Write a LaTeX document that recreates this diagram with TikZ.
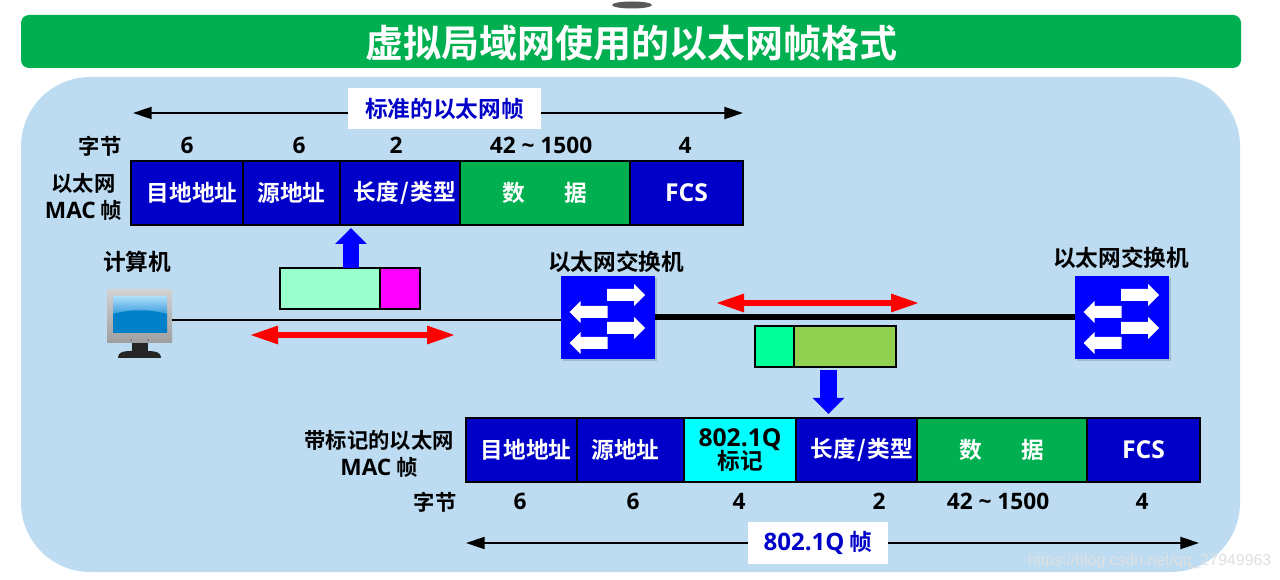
\documentclass[tikz,border=0pt]{standalone}
\usepackage{fontspec}
\usetikzlibrary{arrows.meta,calc}
\setmainfont{Noto Sans CJK SC}[BoldFont={Noto Sans CJK SC Bold}]
\newfontfamily\latf{Open Sans}[BoldFont={Open Sans Bold}]
\newcommand{\lat}[1]{{\latf\bfseries #1}}
\newcommand{\fs}[1]{\fontsize{#1}{#1}\selectfont\bfseries}
\definecolor{bgblue}{HTML}{BDDCF2}
\definecolor{titlegreen}{HTML}{00B050}
\definecolor{cellblue}{HTML}{0000C8}
\definecolor{pureblue}{HTML}{0000FF}
\definecolor{mint}{HTML}{99FFCC}
\definecolor{sgreen}{HTML}{00FF99}
\definecolor{lgreen}{HTML}{92D050}
\definecolor{arrowred}{HTML}{FF0000}
\definecolor{puremagenta}{HTML}{FF00FF}
\definecolor{purecyan}{HTML}{00FFFF}
\definecolor{waterblue}{HTML}{0080C8}
\definecolor{skyblue}{HTML}{A8DCF8}
\definecolor{skyblue2}{HTML}{3C9CDC}
\tikzset{
 x=0.75pt,y=-0.75pt,
 cellbox/.style={draw=black,line width=2.2pt,inner sep=0,outer sep=0,minimum height=48pt,text=white,font=\fs{17},align=center,fill=cellblue},
 wd/.style={minimum width=#1*0.75pt},
 greencell/.style={fill=titlegreen},
 txt/.style={inner sep=0,outer sep=0,text=black,align=center,font=\fs{#1}},
 num/.style={inner sep=0,outer sep=0,text=black,font=\fs{17}},
 caption/.style={fill=white,inner sep=0,outer sep=0,text=cellblue,font=\fs{17}},
 span/.style={draw=black,line width=1.6pt,-{Triangle[length=14pt,width=9pt]}},
 redarrow/.style={draw=arrowred,line width=3.8pt,{Triangle[length=21pt,width=13pt]}-{Triangle[length=21pt,width=13pt]}},
 bluearrow/.style={draw=pureblue,line width=12.5pt,-{Triangle[length=12pt,width=23pt]}},
 pkt/.style={draw=black,line width=1.2pt,inner sep=0,outer sep=0,minimum height=30.5pt},
 switchbox/.style={fill=pureblue,inner sep=0,outer sep=0,minimum width=70.5pt,minimum height=62.5pt},
 rarr/.pic={\fill[white] (-19,-6)--(8,-6)--(8,-11)--(19,0)--(8,11)--(8,6)--(-19,6)--cycle;},
 larr/.pic={\fill[white] (19,-6)--(-8,-6)--(-8,-11)--(-19,0)--(-8,11)--(-8,6)--(19,6)--cycle;},
 swicons/.pic={
  \path (18,-22.5) pic{rarr} (18,10.5) pic{rarr} (-19.5,-5.5) pic{larr} (-19.5,25.5) pic{larr};
 }
}
\begin{document}
\begin{tikzpicture}
\useasboundingbox (0,0) rectangle (1280,580);
\fill[white] (0,0) rectangle (1280,580);
% top smudge
\fill[black!65] (632,5) ellipse [x radius=20,y radius=3.5];
% title bar
\fill[titlegreen,rounded corners=6pt] (21,15) rectangle (1241,68);
\node[inner sep=0,text=white,font=\fs{28.5}] (title) at (631,43) {虚拟局域网使用的以太网帧格式};
% panel
\fill[bgblue,rounded corners=52pt] (21,77) rectangle (1240,572);

% top frame caption
\coordinate (tl) at (133,113);
\coordinate (tr) at (743,113);
\node[caption,minimum width=193*0.75pt,minimum height=41*0.75pt] (tcap) at (444.5,108.5) {标准的以太网帧};
\draw[span] (tcap.west |- tl) -- (tl);
\draw[span] (tcap.east |- tr) -- (tr);

\node[txt=16] (tb) at (100,146) {字节};
\node[num] (t1) at (187,145) {\lat{6}};
\node[num] (t2) at (299,145) {\lat{6}};
\node[num] (t3) at (396,145) {\lat{2}};
\node[num] (t4) at (541,145) {\lat{42 \textasciitilde{} 1500}};
\node[num] (t5) at (685,145) {\lat{4}};

\node[txt=16] (tl1) at (83.5,197) {以太网\\[4pt]{\fontsize{17}{17}\selectfont\lat{MAC}} 帧};

\node[cellbox,wd=112] (a1) at (187,193) {\hspace*{7.5pt}目地地址};
\node[cellbox,wd=97] (a2) at (291.5,193) {源地址};
\node[cellbox,wd=120] (a3) at (400,193) {\hspace*{7.5pt}长度\kern1pt/\kern1pt类型};
\node[cellbox,wd=170,greencell] (a4) at (545,193) {数\hspace{30pt}据};
\node[cellbox,wd=113,font=\fs{18.5}] (a5) at (686.5,193) {\lat{FCS}};

% computer
\node[txt=17] (pclabel) at (137,262) {计算机};
\node[inner sep=0,outer sep=0,minimum width=48pt,minimum height=45pt] (pc) at (139.5,320) {};
\fill[black!85] (132,342) rectangle (148,352);
\fill[black!85] (118,358) .. controls (118,350) and (128,351) .. (139,351) .. controls (150,351) and (161,350) .. (161,358) -- cycle;
\shade[top color=black!18,bottom color=black!38] (107,290) rectangle (172,343);
\shade[top color=skyblue,bottom color=skyblue2] (113,297) rectangle (167,314);
\fill[waterblue] (113,333) -- (113,314) .. controls (130,309) and (150,309) .. (167,314) -- (167,333) -- cycle;
\fill[black!55] (131,340) circle (1) (148,340) circle (1);

% switches
\node[txt=17] (s1label) at (616,262) {以太网交换机};
\node[txt=17] (s2label) at (1121,258) {以太网交换机};
\fill[black,opacity=.15] (563,278) rectangle (657,361);
\fill[black,opacity=.15] (1077,278) rectangle (1171,361);
\node[switchbox] (sw1) at (608,317.5) {};
\node[switchbox] (sw2) at (1122,317.5) {};
\path (sw1.center) pic{swicons};
\path (sw2.center) pic{swicons};

% links
\draw[black,line width=2pt] (pc.east) -- (pc.east -| sw1.west);
\draw[black,line width=4.5pt] (sw1.east) -- (sw2.west);

% left packet
\node[pkt,fill=mint,minimum width=75pt] (p1) at (330,288.5) {};
\node[pkt,fill=puremagenta,minimum width=30pt] (p2) at (400,288.5) {};
\coordinate (up0) at (351,268);
\coordinate (up1) at (351,228);
\draw[bluearrow] (up0) -- (up1);
\coordinate (r1a) at (250,335);
\coordinate (r1b) at (455,335);
\draw[redarrow] (r1a) -- (r1b);

% right packet
\node[pkt,fill=sgreen,minimum width=29.25pt] (q1) at (774.5,346.5) {};
\node[pkt,fill=lgreen,minimum width=76.5pt] (q2) at (845,346.5) {};
\coordinate (r2a) at (716,303);
\coordinate (r2b) at (919,303);
\draw[redarrow] (r2a) -- (r2b);
\coordinate (dn0) at (828.5,370);
\coordinate (dn1) at (828.5,414);
\draw[bluearrow] (dn0) -- (dn1);

% lower frame
\node[txt=16] (bl1) at (379,454) {带标记的以太网\\[4pt]{\fontsize{17}{17}\selectfont\lat{MAC}} 帧};
\node[cellbox,wd=111] (b1) at (521.5,450) {\hspace*{6.75pt}目地地址};
\node[cellbox,wd=107] (b2) at (630.5,450) {源地址\hspace*{7.5pt}};
\node[cellbox,wd=112,fill=purecyan,text=black] (b3) at (740,450) {{\fontsize{18.5}{18.5}\selectfont\lat{802.1Q}}\\[-1pt]标记};
\node[cellbox,wd=121] (b4) at (856.5,450) {\hspace*{8pt}长度\kern1pt/\kern1pt类型};
\node[cellbox,wd=170,greencell] (b5) at (1002,450) {数\hspace{30pt}据};
\node[cellbox,wd=113,font=\fs{18.5}] (b6) at (1143.5,450) {\lat{FCS}};

\node[txt=16] (bb) at (435,502) {字节};
\node[num] (n1) at (520,501) {\lat{6}};
\node[num] (n2) at (633,501) {\lat{6}};
\node[num] (n3) at (739,501) {\lat{4}};
\node[num] (n4) at (879,501) {\lat{2}};
\node[num] (n5) at (998,501) {\lat{42 \textasciitilde{} 1500}};
\node[num] (n6) at (1142,501) {\lat{4}};

\coordinate (bl) at (466,543);
\coordinate (br) at (1199,543);
\node[caption,minimum width=140*0.75pt,minimum height=42*0.75pt] (bcap) at (818,543) {{\fontsize{18}{18}\selectfont\lat{802.1Q}} 帧};
\draw[span] (bcap.west) -- (bl);
\draw[span] (bcap.east) -- (br);

% watermark
\node[inner sep=0,text=black!12,font=\fontspec{Liberation Sans}\fontsize{11.9}{14}\selectfont] (wm) at (1149.5,561) {https://blog.csdn.net/qq\_27949963};
\end{tikzpicture}
\end{document}
